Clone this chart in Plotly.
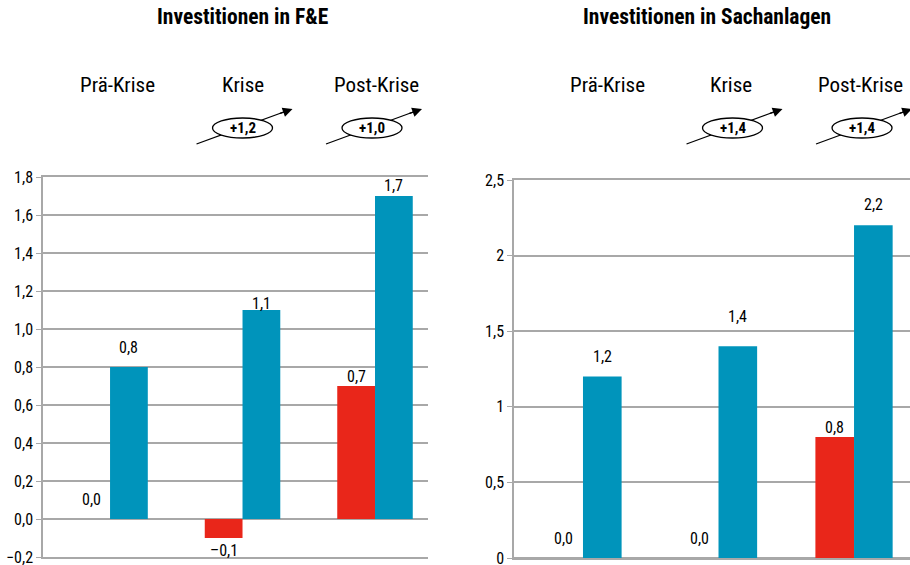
import plotly.graph_objects as go
from plotly.subplots import make_subplots

# data
categories = ["Prä-Krise", "Krise", "Post-Krise"]
fe_red = [0.0, -0.1, 0.7]
fe_blue = [0.8, 1.1, 1.7]
sach_red = [0.0, 0.0, 0.8]
sach_blue = [1.2, 1.4, 2.2]
fe_change = [None, "+1,2", "+1,0"]
sach_change = [None, "+1,4", "+1,4"]
titles = ["Investitionen in F&E", "Investitionen in Sachanlagen"]
fe_ticks = [-0.2, 0.0, 0.2, 0.4, 0.6, 0.8, 1.0, 1.2, 1.4, 1.6, 1.8]
sach_ticks = [0, 0.5, 1, 1.5, 2, 2.5]

RED = "#E9261A"
BLUE = "#0094BB"
GRID = "#A8A8A8"
FONT = "Roboto Condensed, Liberation Sans Narrow, Arial Narrow, sans-serif"
BARGAP = 0.43

fig = make_subplots(rows=1, cols=2)

x = list(range(len(categories)))
for col, (red, blue) in enumerate([(fe_red, fe_blue), (sach_red, sach_blue)], start=1):
    for vals, color in [(red, RED), (blue, BLUE)]:
        fig.add_trace(go.Bar(
            x=x, y=vals, marker_color=color, marker_line_width=0,
            showlegend=False, hoverinfo="skip",
        ), row=1, col=col)

fig.update_layout(
    width=910, height=565,
    margin=dict(l=0, r=0, t=0, b=0, autoexpand=False),
    paper_bgcolor="white", plot_bgcolor="white",
    separators=", ",
    barmode="group", bargap=BARGAP, bargroupgap=0,
    font=dict(family=FONT, size=16, color="black"),
)

axis_common = dict(showgrid=False, showticklabels=False, showline=True, mirror=True,
                   linecolor=GRID, linewidth=1.5, ticks="")
fig.update_xaxes(domain=[43 / 910, 428 / 910], range=[-0.506, 2.4], **axis_common, row=1, col=1)
fig.update_xaxes(domain=[514 / 910, 1.0], range=[-0.509, 2.413], **axis_common, row=1, col=2)

yaxis_common = dict(showgrid=True, gridcolor=GRID, gridwidth=1.5, zeroline=True,
                    zerolinecolor=GRID, zerolinewidth=1.5, showline=True, linecolor=GRID,
                    linewidth=1.5, ticks="outside", ticklen=5, tickcolor=GRID,
                    ticklabeloverflow="allow", automargin=False,
                    tickfont=dict(size=16, family=FONT, color="black"))
fig.update_yaxes(domain=[8 / 565, 388 / 565], range=[-0.2, 1.8], tickvals=fe_ticks,
                 tickformat=".1f", **yaxis_common, row=1, col=1)
fig.update_yaxes(domain=[7 / 565, 385 / 565], range=[0, 2.5], tickvals=sach_ticks,
                 **yaxis_common, row=1, col=2)


def fmt(v):
    s = f"{abs(v):.1f}".replace(".", ",")
    return "–" + s if v < 0 else s


annotations = []
shapes = []
title_x = [242 / 910, 707 / 910]
title_size = [21.5, 21.5]
label_shift = [[7, 0, 1], [25, 12, 6]]
badge_shift = [[0, 0, -3], [0, 14, 8]]
# vertical gap (px) between bar end and value label, as placed in the reference
red_gap = [[20, -12, 10], [20, 20, 10]]
blue_gap = [[20, 7, 10], [20, 30, 21]]
half = (1 - BARGAP) / 4
ell_y = (565 - 128) / 565
series = [(fe_red, fe_blue), (sach_red, sach_blue)]
for c, (xref, yref, changes) in enumerate([("x", "y", fe_change), ("x2", "y2", sach_change)]):
    annotations.append(dict(text="<b>" + titles[c] + "</b>", x=title_x[c], y=(565 - 17) / 565,
                            xref="paper", yref="paper", xanchor="center", yanchor="middle",
                            showarrow=False,
                            font=dict(size=title_size[c], family=FONT, color="black")))
    red, blue = series[c]
    for i, cat in enumerate(categories):
        # value labels
        for vals, off, gap in [(red, -half, red_gap[c][i]), (blue, half, blue_gap[c][i])]:
            annotations.append(dict(text=fmt(vals[i]), x=i + off, y=vals[i], xref=xref, yref=yref,
                                    yanchor="middle", yshift=gap, showarrow=False,
                                    font=dict(size=16, family=FONT, color="black")))
        annotations.append(dict(text=cat, x=i, xref=xref, y=(565 - 85) / 565, yref="paper",
                                yanchor="middle", xshift=label_shift[c][i], showarrow=False,
                                font=dict(size=21, family=FONT, color="black")))
        if changes[i] is None:
            continue
        s = badge_shift[c][i]
        # arrow line behind the badge
        shapes.append(dict(type="line", xref=xref, yref="paper", xsizemode="pixel",
                           ysizemode="pixel", xanchor=i, yanchor=ell_y,
                           x0=-46 + s, x1=44 + s, y0=-16, y1=17,
                           line=dict(color="black", width=1.3)))
        shapes.append(dict(type="circle", xref=xref, yref="paper", xsizemode="pixel",
                           ysizemode="pixel", xanchor=i, yanchor=ell_y,
                           x0=-30 + s, x1=30 + s, y0=-10, y1=10,
                           fillcolor="white", line=dict(color="black", width=1.3)))
        # arrow head
        annotations.append(dict(text="", x=i, xref=xref, y=(565 - 109) / 565, yref="paper",
                                xshift=50 + s, showarrow=True, ax=-14, ay=5,
                                arrowhead=2, arrowsize=1.5, arrowwidth=1.3,
                                arrowcolor="black"))
        annotations.append(dict(text="<b>" + changes[i] + "</b>", x=i, xref=xref,
                                y=ell_y, yref="paper", yanchor="middle", xshift=s,
                                showarrow=False,
                                font=dict(size=15, family=FONT, color="black")))

fig.update_layout(annotations=annotations, shapes=shapes)

fig.write_html("out.html", config={"displayModeBar": False},
               post_script="document.body.style.margin='0';")
